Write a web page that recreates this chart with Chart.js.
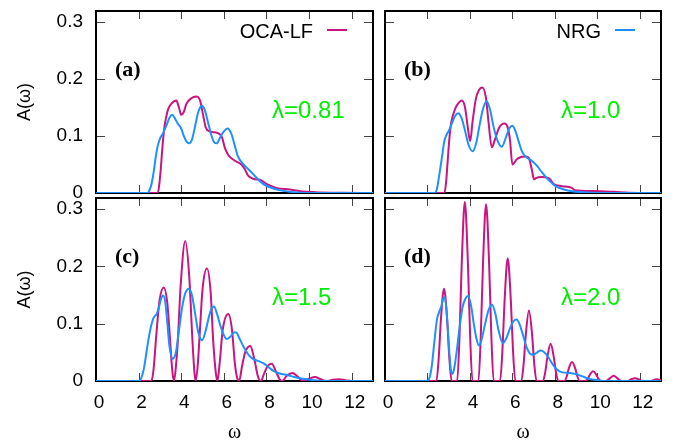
<!DOCTYPE html>
<html>
<head>
<meta charset="utf-8">
<script src="https://cdn.jsdelivr.net/npm/chart.js"></script>
<style>
  html, body { margin: 0; padding: 0; background: #fff; overflow: hidden; }
  #wrap { position: relative; width: 681px; height: 442px; }
  #wrap canvas { position: absolute; left: 0; top: 0; }
</style>
</head>
<body>
<div id="wrap">
  <canvas id="pa" width="681" height="442"></canvas>
  <canvas id="pb" width="681" height="442"></canvas>
  <canvas id="pc" width="681" height="442"></canvas>
  <canvas id="pd" width="681" height="442"></canvas>
</div>
<script>
// Spectral function A(omega): OCA-LF against NRG for four couplings

const ocaColor = "#c8157f";
const nrgColor = "#1e90ff";
const lambdaColor = "#00ee00";

const panelTags = ["(a)", "(b)", "(c)", "(d)"];
const lambdaLabels = ["λ=0.81", "λ=1.0", "λ=1.5", "λ=2.0"];

// (a) lambda = 0.81
const omegaOcaA = [0, 2.9, 2.97, 3.04, 3.1, 3.16, 3.22, 3.3, 3.38, 3.55, 3.77, 3.9, 4.0, 4.12, 4.24, 4.47, 4.71, 4.82, 4.9, 5.02, 5.15, 5.33, 5.72, 5.91, 6.04, 6.2, 6.5, 6.82, 6.98, 7.13, 7.37, 7.76, 8.0, 8.46, 9.09, 9.6, 10.3, 11.5, 13];
const specOcaA = [0, 0, 0.015, 0.042, 0.072, 0.098, 0.118, 0.134, 0.146, 0.157, 0.162, 0.149, 0.137, 0.142, 0.156, 0.166, 0.169, 0.167, 0.16, 0.138, 0.115, 0.108, 0.105, 0.098, 0.08, 0.067, 0.057, 0.05, 0.042, 0.031, 0.025, 0.022, 0.016, 0.009, 0.006, 0.003, 0.0015, 0.0005, 0];
const omegaNrgA = [0, 2.42, 2.5, 2.6, 2.7, 2.8, 2.9, 3.0, 3.15, 3.3, 3.45, 3.58, 3.7, 3.85, 4.0, 4.12, 4.25, 4.37, 4.5, 4.65, 4.8, 4.97, 5.1, 5.25, 5.4, 5.53, 5.67, 5.82, 6.0, 6.18, 6.35, 6.5, 6.65, 6.9, 7.2, 7.5, 7.84, 8.15, 8.6, 9.4, 10, 13];
const specNrgA = [0, 0, 0.004, 0.015, 0.035, 0.062, 0.083, 0.095, 0.105, 0.118, 0.132, 0.137, 0.131, 0.121, 0.113, 0.1, 0.09, 0.087, 0.093, 0.117, 0.142, 0.153, 0.146, 0.125, 0.103, 0.09, 0.087, 0.097, 0.108, 0.113, 0.104, 0.085, 0.065, 0.051, 0.04, 0.028, 0.016, 0.01, 0.005, 0.001, 0, 0];

// (b) lambda = 1.0
const omegaOcaB = [0, 2.8, 2.88, 2.95, 3.02, 3.11, 3.3, 3.45, 3.62, 3.77, 3.9, 4.01, 4.13, 4.28, 4.42, 4.59, 4.75, 4.87, 5.03, 5.19, 5.38, 5.63, 5.78, 5.89, 6.0, 6.21, 6.4, 6.57, 6.76, 6.91, 7.02, 7.1, 7.38, 7.7, 7.82, 7.93, 8.33, 8.8, 8.95, 9.8, 10.8, 11.5, 13];
const specOcaB = [0, 0, 0.02, 0.055, 0.09, 0.121, 0.147, 0.157, 0.162, 0.15, 0.115, 0.091, 0.127, 0.165, 0.18, 0.185, 0.168, 0.127, 0.08, 0.095, 0.115, 0.122, 0.115, 0.092, 0.05, 0.059, 0.063, 0.064, 0.062, 0.042, 0.024, 0.026, 0.028, 0.026, 0.022, 0.016, 0.012, 0.009, 0.005, 0.0035, 0.002, 0.0005, 0];
const omegaNrgB = [0, 2.35, 2.45, 2.55, 2.68, 2.8, 2.9, 3.02, 3.15, 3.3, 3.45, 3.6, 3.75, 3.93, 4.13, 4.3, 4.45, 4.62, 4.79, 4.95, 5.12, 5.3, 5.5, 5.7, 5.85, 6.0, 6.15, 6.3, 6.45, 6.65, 6.9, 7.15, 7.4, 7.7, 8.0, 8.35, 8.8, 9.5, 10.2, 13];
const specNrgB = [0, 0, 0.008, 0.03, 0.062, 0.092, 0.102, 0.11, 0.122, 0.135, 0.14, 0.132, 0.112, 0.085, 0.073, 0.088, 0.118, 0.148, 0.161, 0.146, 0.115, 0.092, 0.081, 0.098, 0.113, 0.118, 0.108, 0.09, 0.073, 0.063, 0.057, 0.048, 0.036, 0.023, 0.013, 0.007, 0.003, 0.001, 0, 0];

// (c) lambda = 1.5
const omegaOcaC = [0, 2.6, 2.7, 2.83, 2.98, 3.18, 3.34, 3.48, 3.58, 3.66, 3.75, 3.84, 3.97, 4.19, 4.38, 4.52, 4.62, 4.68, 4.78, 4.88, 5.0, 5.21, 5.38, 5.5, 5.63, 5.7, 5.8, 5.95, 6.21, 6.38, 6.52, 6.62, 6.72, 6.85, 7.0, 7.24, 7.42, 7.6, 7.74, 7.88, 8.05, 8.25, 8.45, 8.62, 8.74, 8.95, 9.22, 9.45, 9.72, 10.0, 10.28, 10.55, 10.8, 11.1, 11.4, 11.7, 12.0, 13];
const specOcaC = [0, 0, 0.02, 0.08, 0.14, 0.163, 0.138, 0.07, 0.018, 0, 0.025, 0.07, 0.165, 0.244, 0.18, 0.075, 0.015, 0, 0.03, 0.09, 0.16, 0.196, 0.155, 0.07, 0.012, 0, 0.03, 0.09, 0.117, 0.09, 0.03, 0.006, 0, 0.025, 0.05, 0.061, 0.04, 0.008, 0, 0.012, 0.026, 0.03, 0.016, 0.003, 0, 0.009, 0.014, 0.008, 0, 0.004, 0.007, 0.003, 0, 0.002, 0.003, 0.0015, 0, 0];
const omegaNrgC = [0, 2.0, 2.12, 2.25, 2.4, 2.55, 2.7, 2.85, 2.95, 3.05, 3.15, 3.25, 3.35, 3.45, 3.6, 3.75, 3.9, 4.05, 4.2, 4.36, 4.5, 4.65, 4.8, 4.98, 5.15, 5.3, 5.42, 5.54, 5.68, 5.85, 6.0, 6.13, 6.3, 6.5, 6.6, 6.75, 6.95, 7.15, 7.35, 7.6, 7.85, 8.1, 8.35, 8.62, 9.0, 9.3, 9.7, 10.2, 10.8, 13];
const specNrgC = [0, 0, 0.005, 0.022, 0.058, 0.09, 0.11, 0.117, 0.128, 0.143, 0.149, 0.138, 0.1, 0.06, 0.039, 0.05, 0.09, 0.13, 0.154, 0.161, 0.15, 0.118, 0.085, 0.071, 0.088, 0.112, 0.126, 0.13, 0.117, 0.095, 0.08, 0.073, 0.077, 0.085, 0.084, 0.073, 0.058, 0.046, 0.039, 0.035, 0.031, 0.024, 0.017, 0.013, 0.01, 0.007, 0.004, 0.0015, 0, 0];

// (d) lambda = 2.0
const omegaOcaD = [0, 2.42, 2.53, 2.63, 2.78, 2.93, 3.03, 3.14, 3.40, 3.51, 3.61, 3.76, 3.91, 4.01, 4.12, 4.40, 4.51, 4.61, 4.76, 4.91, 5.01, 5.12, 5.42, 5.53, 5.63, 5.78, 5.93, 6.03, 6.14, 6.42, 6.53, 6.63, 6.78, 6.93, 7.03, 7.14, 7.44, 7.55, 7.65, 7.8, 7.95, 8.05, 8.16, 8.45, 8.56, 8.66, 8.81, 8.96, 9.06, 9.17, 9.44, 9.55, 9.65, 9.8, 9.95, 10.05, 10.16, 10.41, 10.6, 10.77, 10.94, 11.13, 11.41, 11.6, 11.77, 11.94, 12.13, 12.5, 12.8, 13];
const specOcaD = [0, 0, 0.04, 0.105, 0.161, 0.105, 0.04, 0, 0, 0.078, 0.2, 0.312, 0.2, 0.078, 0, 0, 0.077, 0.198, 0.308, 0.198, 0.077, 0, 0, 0.053, 0.138, 0.214, 0.138, 0.053, 0, 0, 0.03, 0.08, 0.123, 0.08, 0.03, 0, 0, 0.016, 0.042, 0.065, 0.042, 0.016, 0, 0, 0.008, 0.022, 0.033, 0.022, 0.008, 0, 0, 0.004, 0.011, 0.017, 0.011, 0.004, 0, 0, 0.005, 0.009, 0.005, 0, 0, 0.003, 0.005, 0.003, 0, 0, 0.003, 0.002];
const omegaNrgD = [0, 1.95, 2.08, 2.2, 2.33, 2.45, 2.55, 2.65, 2.73, 2.8, 2.88, 2.96, 3.03, 3.1, 3.16, 3.25, 3.37, 3.5, 3.65, 3.78, 3.92, 4.06, 4.18, 4.3, 4.42, 4.55, 4.7, 4.88, 5.04, 5.2, 5.35, 5.55, 5.72, 5.9, 6.05, 6.2, 6.35, 6.5, 6.68, 6.85, 7.0, 7.17, 7.33, 7.5, 7.7, 7.9, 8.1, 8.35, 8.7, 9.0, 9.3, 9.6, 10.0, 10.5, 13];
const specNrgD = [0, 0, 0.004, 0.025, 0.07, 0.108, 0.12, 0.13, 0.142, 0.146, 0.132, 0.09, 0.05, 0.02, 0.012, 0.02, 0.05, 0.09, 0.128, 0.143, 0.148, 0.13, 0.1, 0.075, 0.062, 0.072, 0.097, 0.124, 0.133, 0.117, 0.088, 0.066, 0.075, 0.093, 0.104, 0.107, 0.098, 0.08, 0.058, 0.047, 0.046, 0.05, 0.053, 0.05, 0.041, 0.029, 0.02, 0.015, 0.014, 0.012, 0.008, 0.004, 0.0015, 0, 0];

const sans = "'Liberation Sans', Arial, sans-serif";
const serif = "'Liberation Serif', 'Times New Roman', serif";

function pairs(xs, ys) {
  return xs.map((x, i) => ({ x: x, y: ys[i] }));
}

// box frame, inward ticks on all four sides, panel tag, lambda and key
const framePlugin = {
  id: "frame",
  beforeDatasetsDraw(chart, args, opts) {
    const { ctx, chartArea: a, scales } = chart;
    ctx.save();
    ctx.strokeStyle = "#444";
    ctx.lineWidth = 1;
    ctx.beginPath();
    scales.x.ticks.forEach(t => {
      const px = Math.round(scales.x.getPixelForValue(t.value)) + 0.5;
      ctx.moveTo(px, a.top);
      ctx.lineTo(px, a.top + 8);
      ctx.moveTo(px, a.bottom);
      ctx.lineTo(px, a.bottom - 8);
    });
    scales.y.ticks.forEach(t => {
      const py = Math.round(scales.y.getPixelForValue(t.value)) + 0.5;
      ctx.moveTo(a.left, py);
      ctx.lineTo(a.left + 9, py);
      ctx.moveTo(a.right, py);
      ctx.lineTo(a.right - 9, py);
    });
    ctx.stroke();
    ctx.strokeStyle = "#000";
    ctx.lineWidth = 2;
    ctx.strokeRect(a.left, a.top, a.right - a.left, a.bottom - a.top);
    ctx.restore();
  },
  afterDatasetsDraw(chart, args, opts) {
    const { ctx, chartArea: a } = chart;
    ctx.save();
    ctx.textBaseline = "alphabetic";
    ctx.textAlign = "left";
    ctx.fillStyle = "#000";
    ctx.font = "bold 22px " + serif;
    ctx.fillText(opts.tag, a.left + 19, a.top + 65);
    ctx.fillStyle = lambdaColor;
    ctx.font = "24px " + sans;
    ctx.fillText(opts.lambda, a.left + 176, a.top + 107);
    if (opts.key) {
      ctx.fillStyle = "#000";
      ctx.font = "20px " + sans;
      ctx.textAlign = "right";
      ctx.fillText(opts.key, a.right - 60, a.top + 27);
      ctx.strokeStyle = opts.keyColor;
      ctx.lineWidth = 2;
      ctx.beginPath();
      ctx.moveTo(a.right - 46, a.top + 19);
      ctx.lineTo(a.right - 26, a.top + 19);
      ctx.stroke();
    }
    ctx.restore();
  }
};

function makePanel(id, oca, nrg, cfg) {
  return new Chart(document.getElementById(id), {
    type: "line",
    data: {
      datasets: [
        { label: "NRG", data: nrg, borderColor: nrgColor },
        { label: "OCA-LF", data: oca, borderColor: ocaColor }
      ]
    },
    options: {
      responsive: false,
      animation: false,
      devicePixelRatio: 1,
      layout: { padding: cfg.pad },
      elements: {
        point: { radius: 0 },
        line: { borderWidth: 2, cubicInterpolationMode: "monotone", fill: false }
      },
      plugins: {
        legend: { display: false },
        tooltip: { enabled: false },
        frame: { tag: cfg.tag, lambda: cfg.lambda, key: cfg.key, keyColor: cfg.keyColor }
      },
      scales: {
        x: {
          type: "linear",
          min: 0,
          max: 13,
          grid: { display: false, drawTicks: false },
          border: { display: false },
          ticks: {
            display: cfg.xLabels,
            stepSize: 2,
            includeBounds: false,
            autoSkip: false,
            maxRotation: 0,
            padding: 10,
            labelOffset: 3,
            color: "#000",
            font: { family: sans, size: 19 }
          },
          title: {
            display: cfg.xLabels,
            text: "ω",
            color: "#000",
            font: { family: serif, size: 20 },
            padding: { top: 0, bottom: -3 }
          },
          afterFit: s => {
            s.height = cfg.xLabels ? 61 : 0;
            s.paddingLeft = 0;
            s.paddingRight = 0;
          }
        },
        y: {
          min: 0,
          max: 0.319,
          grid: { display: false, drawTicks: false },
          border: { display: false },
          ticks: {
            display: cfg.yLabels,
            stepSize: 0.1,
            includeBounds: false,
            padding: 13,
            color: "#000",
            font: { family: sans, size: 19 }
          },
          title: {
            display: cfg.yLabels,
            text: "A(ω)",
            color: "#000",
            font: { family: sans, size: 18 },
            padding: { top: 14, bottom: 0 }
          },
          afterFit: s => {
            s.width = cfg.yLabels ? 96 : 0;
            s.paddingTop = 0;
            s.paddingBottom = 0;
          }
        }
      }
    },
    plugins: [framePlugin]
  });
}

makePanel("pa", pairs(omegaOcaA, specOcaA), pairs(omegaNrgA, specNrgA), {
  pad: { left: 0, top: 11, right: 308, bottom: 249 },
  xLabels: false, yLabels: true,
  tag: panelTags[0], lambda: lambdaLabels[0], key: "OCA-LF", keyColor: ocaColor
});
makePanel("pb", pairs(omegaOcaB, specOcaB), pairs(omegaNrgB, specNrgB), {
  pad: { left: 385, top: 11, right: 20, bottom: 249 },
  xLabels: false, yLabels: false,
  tag: panelTags[1], lambda: lambdaLabels[1], key: "NRG", keyColor: nrgColor
});
makePanel("pc", pairs(omegaOcaC, specOcaC), pairs(omegaNrgC, specNrgC), {
  pad: { left: 0, top: 198, right: 308, bottom: 0 },
  xLabels: true, yLabels: true,
  tag: panelTags[2], lambda: lambdaLabels[2]
});
makePanel("pd", pairs(omegaOcaD, specOcaD), pairs(omegaNrgD, specNrgD), {
  pad: { left: 385, top: 198, right: 20, bottom: 0 },
  xLabels: true, yLabels: false,
  tag: panelTags[3], lambda: lambdaLabels[3]
});
</script>
</body>
</html>
